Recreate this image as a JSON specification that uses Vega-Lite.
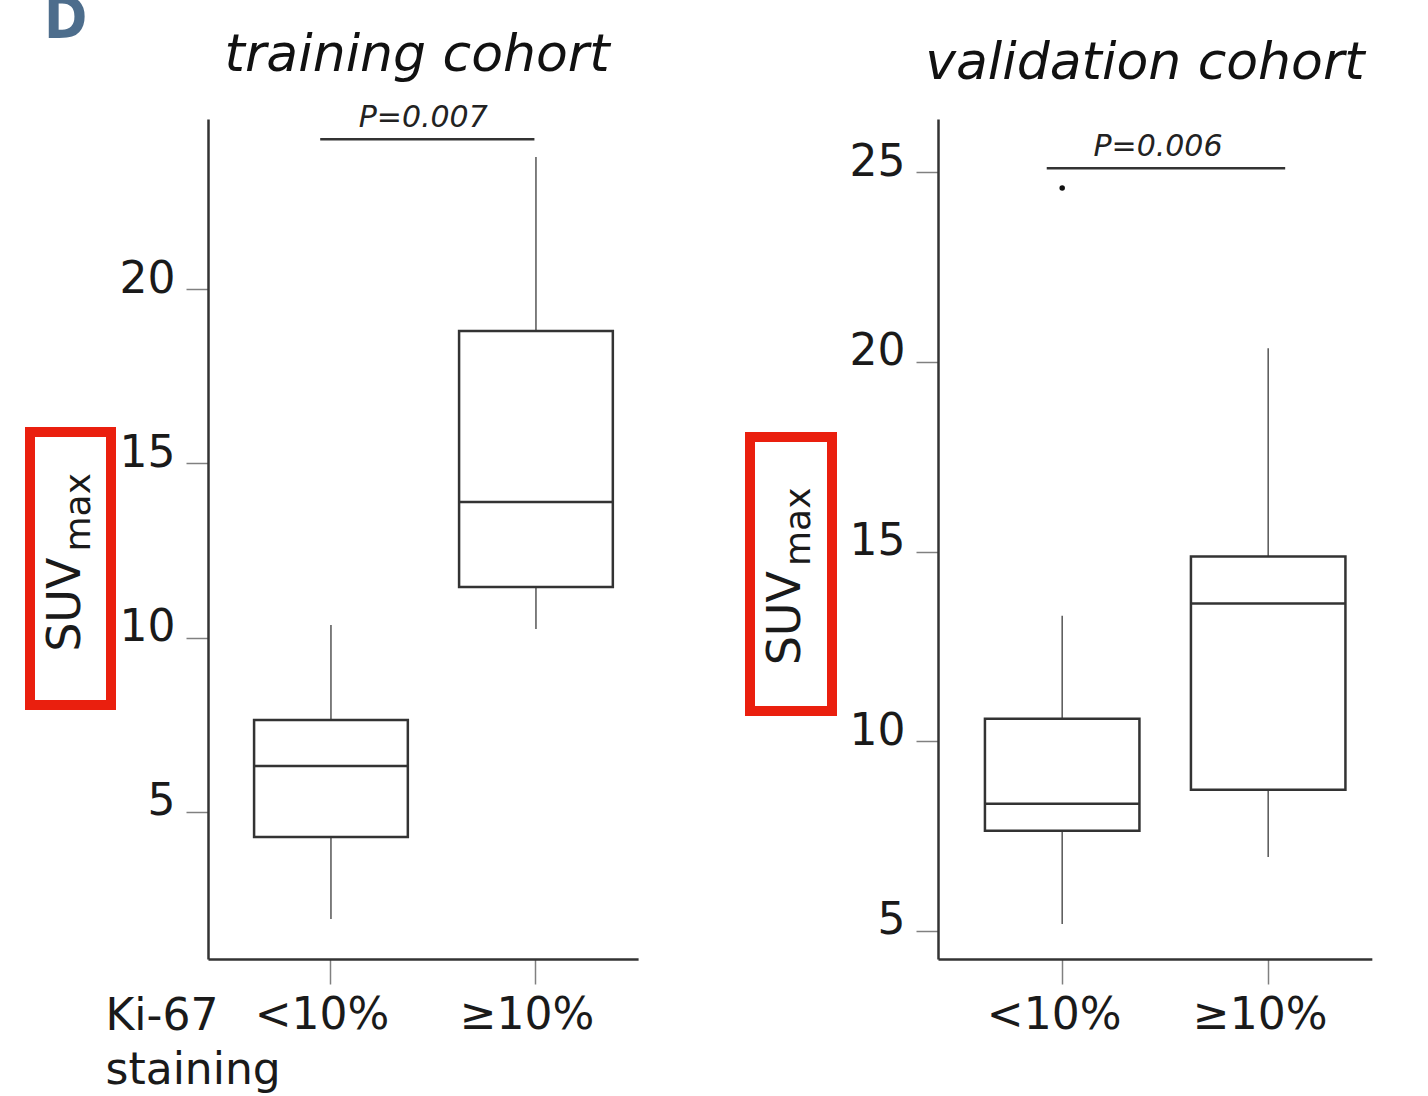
{
  "$schema": "https://vega.github.io/schema/vega-lite/v6.json",
  "padding": {"left": 25, "top": -8, "right": 5, "bottom": 5},
  "background": "white",
  "config": {
    "font": "DejaVu Sans",
    "view": {"stroke": null},
    "axis": {
      "grid": false,
      "domainColor": "#333333",
      "domainWidth": 2.5,
      "tickColor": "#808080",
      "tickWidth": 1.5,
      "labelFont": "DejaVu Sans",
      "labelFontSize": 44,
      "labelColor": "#1a1a1a",
      "titleFont": "DejaVu Sans",
      "titleFontSize": 44,
      "titleFontWeight": "normal",
      "titleColor": "#1a1a1a"
    },
    "title": {"font": "DejaVu Sans", "fontStyle": "italic", "fontWeight": "normal", "color": "#111111", "baseline": "alphabetic"}
  },
  "datasets": {
    "boxes": [
      {"cohort": "training", "group": "<10%", "min": 1.93, "q1": 4.28, "median": 6.32, "q3": 7.64, "max": 10.36},
      {"cohort": "training", "group": "≥10%", "min": 10.25, "q1": 11.45, "median": 13.89, "q3": 18.8, "max": 23.79},
      {"cohort": "validation", "group": "<10%", "min": 5.18, "q1": 7.64, "median": 8.35, "q3": 10.59, "max": 13.31},
      {"cohort": "validation", "group": "≥10%", "min": 6.95, "q1": 8.72, "median": 13.63, "q3": 14.87, "max": 20.36}
    ],
    "outliers": [
      {"cohort": "validation", "group": "<10%", "value": 24.58}
    ],
    "brackets": [
      {"cohort": "training", "from": "<10%", "to": "≥10%", "level": 24.3, "label": "P=0.007"},
      {"cohort": "validation", "from": "<10%", "to": "≥10%", "level": 25.1, "label": "P=0.006"}
    ],
    "yTitle": [
      {"main": "SUV", "sub": "max"}
    ]
  },
  "bounds": "flush",
  "spacing": 720,
  "hconcat": [
    {
      "bounds": "flush",
      "spacing": 178,
      "hconcat": [
        {
          "bounds": "flush",
          "spacing": 0,
          "vconcat": [
            {
              "width": 81,
              "height": 313,
              "title": {"text": "D", "anchor": "start", "fontSize": 58, "font": "DejaVu Sans Condensed", "fontStyle": "normal", "fontWeight": "bold", "color": "#4d6d8c", "offset": 69, "dx": 14},
              "data": {"name": "yTitle"},
              "mark": {"type": "text", "opacity": 0},
              "encoding": {"text": {"field": "main"}}
            },
            {
              "width": 81,
              "height": 273,
              "data": {"name": "yTitle"},
              "view": {"stroke": "#ea1f0e", "strokeWidth": 10},
              "layer": [
                {"mark": {"type": "text", "angle": 270, "align": "right", "baseline": "alphabetic", "fontSize": 46, "dx": 11, "dy": 9, "color": "#1a1a1a"}, "encoding": {"text": {"field": "main"}}},
                {"mark": {"type": "text", "angle": 270, "align": "left", "baseline": "alphabetic", "fontSize": 36, "dx": 17, "dy": 19, "color": "#1a1a1a"}, "encoding": {"text": {"field": "sub"}}}
              ]
            }
          ]
        },
        {
          "width": {"step": 205},
          "height": 840,
          "title": {"text": "training cohort", "fontSize": 52, "offset": 21, "dx": -6},
          "layer": [
            {
              "data": {"name": "boxes"},
              "transform": [{"filter": "datum.cohort === 'training'"}],
              "mark": {"type": "rule", "color": "#555555", "strokeWidth": 1.5},
              "encoding": {
                "x": {"field": "group", "type": "nominal", "sort": ["<10%", "≥10%"],
                  "scale": {"paddingInner": 0.25, "paddingOuter": 0.174, "align": 0.646},
                  "axis": {"title": ["Ki-67", "staining"], "titleX": -103, "titleY": 70, "titleAlign": "left", "titleBaseline": "alphabetic", "titleLineHeight": 54, "labelAngle": 0, "tickSize": 25, "labelPadding": 44, "labelBaseline": "alphabetic", "labelOffset": -9}},
                "y": {"field": "min", "type": "quantitative",
                  "scale": {"domain": [0.78, 24.88], "nice": false, "zero": false},
                  "axis": {"title": null, "values": [5, 10, 15, 20], "tickSize": 22, "labelPadding": 11, "labelBaseline": "alphabetic", "labelOffset": 3}},
                "y2": {"field": "q1"}
              }
            },
            {
              "data": {"name": "boxes"},
              "transform": [{"filter": "datum.cohort === 'training'"}],
              "mark": {"type": "rule", "color": "#555555", "strokeWidth": 1.5},
              "encoding": {
                "x": {"field": "group", "type": "nominal", "sort": ["<10%", "≥10%"]},
                "y": {"field": "q3", "type": "quantitative"},
                "y2": {"field": "max"}
              }
            },
            {
              "data": {"name": "boxes"},
              "transform": [{"filter": "datum.cohort === 'training'"}],
              "mark": {"type": "bar", "fill": "white", "stroke": "#333333", "strokeWidth": 2.5},
              "encoding": {
                "x": {"field": "group", "type": "nominal", "sort": ["<10%", "≥10%"]},
                "y": {"field": "q1", "type": "quantitative"},
                "y2": {"field": "q3"}
              }
            },
            {
              "data": {"name": "boxes"},
              "transform": [{"filter": "datum.cohort === 'training'"}],
              "mark": {"type": "tick", "color": "#333333", "thickness": 2.5, "opacity": 1},
              "encoding": {
                "x": {"field": "group", "type": "nominal", "sort": ["<10%", "≥10%"]},
                "y": {"field": "median", "type": "quantitative"}
              }
            },
            {
              "data": {"name": "brackets"},
              "transform": [{"filter": "datum.cohort === 'training'"}],
              "mark": {"type": "rule", "color": "#333333", "strokeWidth": 2.5},
              "encoding": {
                "x": {"field": "from", "type": "nominal", "bandPosition": 0.43},
                "x2": {"field": "to", "bandPosition": 0.49},
                "y": {"field": "level", "type": "quantitative"}
              }
            },
            {
              "data": {"name": "brackets"},
              "transform": [{"filter": "datum.cohort === 'training'"}],
              "mark": {"type": "text", "fontSize": 30, "fontStyle": "italic", "baseline": "bottom", "dy": -6, "color": "#222222"},
              "encoding": {
                "x": {"field": "from", "type": "nominal", "bandPosition": 1.1},
                "y": {"field": "level", "type": "quantitative"},
                "text": {"field": "label"}
              }
            }
          ]
        }
      ]
    },
    {
      "bounds": "flush",
      "spacing": 188,
      "hconcat": [
        {
          "bounds": "flush",
          "spacing": 0,
          "vconcat": [
            {"width": 82, "height": 318, "data": {"name": "yTitle"}, "mark": {"type": "text", "opacity": 0}, "encoding": {"text": {"field": "main"}}},
            {
              "width": 82,
              "height": 274,
              "data": {"name": "yTitle"},
              "view": {"stroke": "#ea1f0e", "strokeWidth": 10},
              "layer": [
                {"mark": {"type": "text", "angle": 270, "align": "right", "baseline": "alphabetic", "fontSize": 46, "dx": 3, "dy": 9, "color": "#1a1a1a"}, "encoding": {"text": {"field": "main"}}},
                {"mark": {"type": "text", "angle": 270, "align": "left", "baseline": "alphabetic", "fontSize": 36, "dx": 8, "dy": 19, "color": "#1a1a1a"}, "encoding": {"text": {"field": "sub"}}}
              ]
            }
          ]
        },
        {
          "width": {"step": 206},
          "height": 840,
          "title": {"text": "validation cohort", "fontSize": 52, "offset": 29, "dx": -10},
          "layer": [
            {
              "data": {"name": "boxes"},
              "transform": [{"filter": "datum.cohort === 'validation'"}],
              "mark": {"type": "rule", "color": "#555555", "strokeWidth": 1.5},
              "encoding": {
                "x": {"field": "group", "type": "nominal", "sort": ["<10%", "≥10%"],
                  "scale": {"paddingInner": 0.25, "paddingOuter": 0.178, "align": 0.64},
                  "axis": {"title": null, "labelAngle": 0, "tickSize": 25, "labelPadding": 44, "labelBaseline": "alphabetic", "labelOffset": -8}},
                "y": {"field": "min", "type": "quantitative",
                  "scale": {"domain": [4.26, 26.4], "nice": false, "zero": false},
                  "axis": {"title": null, "values": [5, 10, 15, 20, 25], "tickSize": 22, "labelPadding": 11, "labelBaseline": "alphabetic", "labelOffset": 3}},
                "y2": {"field": "q1"}
              }
            },
            {
              "data": {"name": "boxes"},
              "transform": [{"filter": "datum.cohort === 'validation'"}],
              "mark": {"type": "rule", "color": "#555555", "strokeWidth": 1.5},
              "encoding": {
                "x": {"field": "group", "type": "nominal", "sort": ["<10%", "≥10%"]},
                "y": {"field": "q3", "type": "quantitative"},
                "y2": {"field": "max"}
              }
            },
            {
              "data": {"name": "boxes"},
              "transform": [{"filter": "datum.cohort === 'validation'"}],
              "mark": {"type": "bar", "fill": "white", "stroke": "#333333", "strokeWidth": 2.5},
              "encoding": {
                "x": {"field": "group", "type": "nominal", "sort": ["<10%", "≥10%"]},
                "y": {"field": "q1", "type": "quantitative"},
                "y2": {"field": "q3"}
              }
            },
            {
              "data": {"name": "boxes"},
              "transform": [{"filter": "datum.cohort === 'validation'"}],
              "mark": {"type": "tick", "color": "#333333", "thickness": 2.5, "opacity": 1},
              "encoding": {
                "x": {"field": "group", "type": "nominal", "sort": ["<10%", "≥10%"]},
                "y": {"field": "median", "type": "quantitative"}
              }
            },
            {
              "data": {"name": "outliers"},
              "mark": {"type": "point", "filled": true, "color": "#111111", "size": 30, "opacity": 1},
              "encoding": {
                "x": {"field": "group", "type": "nominal"},
                "y": {"field": "value", "type": "quantitative"}
              }
            },
            {
              "data": {"name": "brackets"},
              "transform": [{"filter": "datum.cohort === 'validation'"}],
              "mark": {"type": "rule", "color": "#333333", "strokeWidth": 2.5},
              "encoding": {
                "x": {"field": "from", "type": "nominal", "bandPosition": 0.4},
                "x2": {"field": "to", "bandPosition": 0.61},
                "y": {"field": "level", "type": "quantitative"}
              }
            },
            {
              "data": {"name": "brackets"},
              "transform": [{"filter": "datum.cohort === 'validation'"}],
              "mark": {"type": "text", "fontSize": 30, "fontStyle": "italic", "baseline": "bottom", "dy": -6, "color": "#222222"},
              "encoding": {
                "x": {"field": "from", "type": "nominal", "bandPosition": 1.12},
                "y": {"field": "level", "type": "quantitative"},
                "text": {"field": "label"}
              }
            }
          ]
        }
      ]
    }
  ]
}
